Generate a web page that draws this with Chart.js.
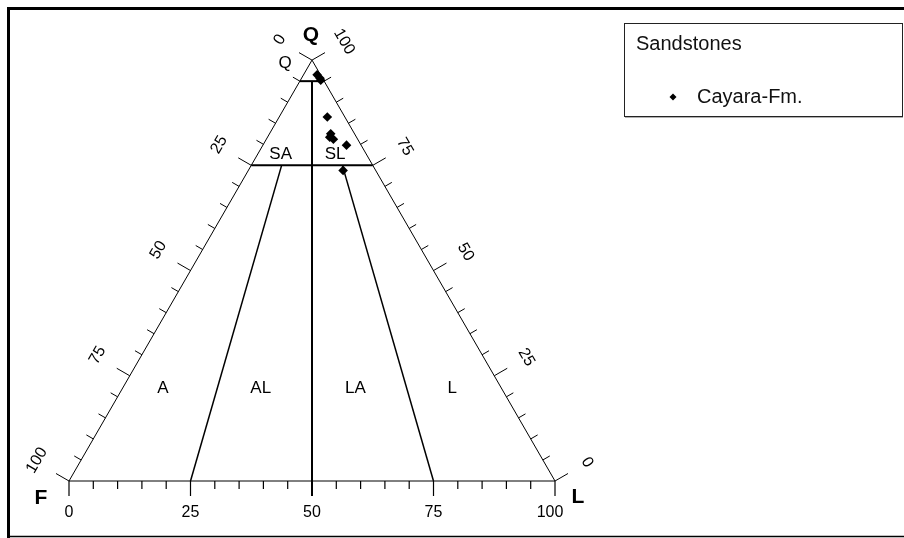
<!DOCTYPE html>
<html>
<head>
<meta charset="utf-8">
<title>QFL diagram – Cayara-Fm. sandstones</title>
<script src="https://cdn.jsdelivr.net/npm/chart.js@4.4.1/dist/chart.umd.min.js"></script>
<style>
  html, body { margin: 0; padding: 0; background: #ffffff; }
  #wrap { width: 904px; height: 538px; }
</style>
</head>
<body>
<div id="wrap"><canvas id="qfl" width="904" height="538"></canvas></div>
<script>
// Modal composition of the Cayara-Fm. sandstones (percent Q, F, L)
const sampleQ = [96.5, 95.7, 95.2, 86.5, 82.5, 81.2, 81.7, 79.8, 73.8];
const sampleF = [0.7, 0.5, 0.6, 3.6, 4.9, 5.0, 5.5, 3.0, 6.7];
const sampleL = [2.8, 3.8, 4.2, 9.9, 12.6, 13.8, 12.8, 17.2, 19.5];

const seriesName = 'Cayara-Fm.';
const legendTitle = 'Sandstones';
const apexNames = ['Q', 'F', 'L'];
const tickLabels = ['0', '25', '50', '75', '100'];
const tickStep = 5;
const majorStep = 25;

// Classification fields (label text with its anchor in Q/F/L percent)
const fieldNames = ['Q', 'SA', 'SL', 'A', 'AL', 'LA', 'L'];
const fieldAnchorQ = [99.3, 77.7, 77.7, 22.1, 22.1, 22.1, 22.1];
const fieldAnchorL = [-5.2, 4.7, 15.9, 8.3, 28.4, 47.9, 67.8];

const H = Math.sqrt(3) / 2;
// ternary -> cartesian (F at origin, L at x = 100, Q on top)
const tx = (q, l) => l + q / 2;
const ty = q => q * H;

const sampleData = sampleQ.map((q, i) => ({ x: tx(q, sampleL[i]), y: ty(q) }));

const FONT = '"Liberation Sans", Arial, sans-serif';

const qflPlugin = {
  id: 'qflFrame',
  beforeDatasetsDraw(chart) {
    const { ctx, scales } = chart;
    const xs = scales.x, ys = scales.y;
    const P = (q, l) => ({ x: xs.getPixelForValue(tx(q, l)), y: ys.getPixelForValue(ty(q)) });
    const seg = (a, b, w) => {
      ctx.lineWidth = w;
      ctx.beginPath(); ctx.moveTo(a.x, a.y); ctx.lineTo(b.x, b.y); ctx.stroke();
    };
    ctx.save();
    ctx.strokeStyle = '#000';
    ctx.fillStyle = '#000';
    ctx.lineCap = 'butt';

    // outer frame of the figure
    ctx.lineWidth = 3;
    ctx.beginPath(); ctx.moveTo(8.5, 538); ctx.lineTo(8.5, 8.5); ctx.lineTo(904, 8.5); ctx.stroke();
    ctx.lineWidth = 1.5;
    ctx.beginPath(); ctx.moveTo(7, 536.5); ctx.lineTo(904, 536.5); ctx.stroke();

    const Qv = P(100, 0), Fv = P(0, 0), Lv = P(0, 100);

    // triangle
    ctx.lineWidth = 1;
    ctx.beginPath(); ctx.moveTo(Fv.x, Fv.y); ctx.lineTo(Lv.x, Lv.y); ctx.lineTo(Qv.x, Qv.y); ctx.closePath(); ctx.stroke();

    // ticks on the three edges
    const nL = { x: -Math.cos(Math.PI / 6), y: -0.5 };
    const nR = { x: Math.cos(Math.PI / 6), y: -0.5 };
    for (let v = 0; v <= 100; v += tickStep) {
      const len = v % majorStep === 0 ? 15 : 8;
      const b = P(0, v);
      seg(b, { x: b.x, y: b.y + len }, 1.2);
      const l = P(100 - v, 0);
      seg(l, { x: l.x + nL.x * len, y: l.y + nL.y * len }, 1);
      const r = P(v, 100 - v);
      seg(r, { x: r.x + nR.x * len, y: r.y + nR.y * len }, 1);
    }

    // field boundaries
    seg(P(95, 0), P(95, 5), 2);
    seg(P(75, 0), P(75, 25), 2);
    const mid = P(0, 50);
    seg(P(95, 2.5), { x: mid.x, y: mid.y + 15 }, 2);
    seg(P(0, 25), P(75, 6.25), 1.5);
    seg(P(0, 75), P(75, 18.75), 1.5);

    // tick labels
    ctx.font = '16px ' + FONT;
    ctx.textAlign = 'center';
    ctx.textBaseline = 'middle';
    tickLabels.forEach((t, i) => {
      const v = i * majorStep;
      const b = P(0, v);
      ctx.fillText(t, b.x - (v === 100 ? 5 : 0), b.y + 32);
      // left edge: F percent, 100 at F apex
      const l = P(100 - v, 0);
      ctx.save();
      ctx.translate(l.x + nL.x * 37, l.y + nL.y * 37 - 2);
      ctx.rotate(-Math.PI / 3);
      ctx.fillText(t, 0, 0);
      ctx.restore();
      // right edge: Q percent, 100 at Q apex
      const r = P(v, 100 - v);
      ctx.save();
      ctx.translate(r.x + nR.x * 37, r.y + nR.y * 37);
      ctx.rotate(Math.PI / 3);
      ctx.fillText(t, 0, 0);
      ctx.restore();
    });

    // field names
    ctx.font = '17px ' + FONT;
    fieldNames.forEach((n, i) => {
      const p = P(fieldAnchorQ[i], fieldAnchorL[i]);
      ctx.fillText(n, p.x, p.y);
    });

    // apex names
    ctx.font = 'bold 21px ' + FONT;
    ctx.fillText(apexNames[0], Qv.x - 1, Qv.y - 25);
    ctx.fillText(apexNames[1], Fv.x - 28, Fv.y + 17);
    ctx.fillText(apexNames[2], Lv.x + 23, Lv.y + 16);

    // legend box
    ctx.strokeStyle = '#b0b0b0';
    ctx.lineWidth = 1;
    ctx.beginPath(); ctx.moveTo(625, 117.5); ctx.lineTo(903, 117.5); ctx.stroke();
    ctx.strokeStyle = '#222';
    ctx.strokeRect(624.5, 23.5, 278, 93);
    ctx.textAlign = 'left';
    ctx.font = '20px ' + FONT;
    ctx.fillStyle = '#111';
    ctx.fillText(legendTitle, 636, 44);
    const ds = chart.data.datasets[0];
    const lx = 673, ly = 97, lr = 3.5;
    ctx.fillStyle = ds.backgroundColor;
    ctx.beginPath();
    ctx.moveTo(lx, ly - lr); ctx.lineTo(lx + lr, ly); ctx.lineTo(lx, ly + lr); ctx.lineTo(lx - lr, ly);
    ctx.closePath(); ctx.fill();
    ctx.fillStyle = '#111';
    ctx.fillText(ds.label, 697, 97);
    ctx.restore();
  }
};

const PX_PER_UNIT = 4.86;
new Chart(document.getElementById('qfl'), {
  type: 'scatter',
  data: {
    datasets: [{
      label: seriesName,
      data: sampleData,
      pointStyle: 'rectRot',
      pointRadius: 4.8,
      backgroundColor: '#000',
      borderColor: '#000',
      borderWidth: 0
    }]
  },
  options: {
    responsive: false,
    animation: false,
    layout: { padding: 0, autoPadding: false },
    plugins: { legend: { display: false }, tooltip: { enabled: false } },
    scales: {
      x: { type: 'linear', display: false, min: -69 / PX_PER_UNIT, max: (904 - 69) / PX_PER_UNIT },
      y: { type: 'linear', display: false, min: -(538 - 481) / PX_PER_UNIT, max: 481 / PX_PER_UNIT }
    }
  },
  plugins: [qflPlugin]
});
</script>
</body>
</html>
